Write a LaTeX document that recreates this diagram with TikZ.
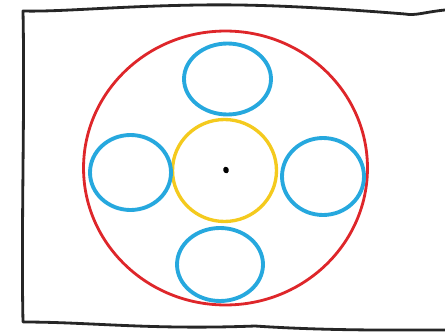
\documentclass[tikz,border=0pt]{standalone}
\usepackage{tikz}
\usetikzlibrary{shapes.geometric}
\definecolor{ringred}{RGB}{222,38,42}
\definecolor{ringblue}{RGB}{38,168,222}
\definecolor{ringyellow}{RGB}{244,202,30}
\tikzset{
  frame/.style     ={draw=black!85,line width=1.6pt,line join=round},
  outerring/.style ={draw=ringred,ellipse,line width=1.6pt,inner sep=0pt},
  bluering/.style  ={draw=ringblue,ellipse,line width=2.2pt,inner sep=0pt},
  hubring/.style   ={draw=ringyellow,ellipse,line width=1.9pt,inner sep=0pt},
  centre/.style    ={fill=black,ellipse,inner sep=0pt,minimum width=3.2pt,minimum height=3.8pt}
}
\begin{document}
\begin{tikzpicture}[x=0.02cm,y=-0.02cm]
    \useasboundingbox (0,0) rectangle (445,334);
    % frame, open at the right
    \draw[frame] (445,10) .. controls (425,12) and (415,16) .. (405,14)
      .. controls (330,8) and (260,4) .. (200,5)
      .. controls (120,6) and (60,12) .. (23,11)
      .. controls (25,110) and (21,230) .. (23,322)
      .. controls (90,322) and (150,330) .. (255,326)
      .. controls (330,331) and (400,330) .. (445,330);
    % rings
    \node[outerring,minimum width=5.68cm,minimum height=5.48cm] (outer) at (225.5,168) {};
    \node[hubring,minimum width=2.08cm,minimum height=2.04cm] (hub) at (224.5,170.5) {};
    \node[bluering,minimum width=1.74cm,minimum height=1.42cm] (top) at (227.5,79) {};
    \node[bluering,minimum width=1.62cm,minimum height=1.5cm] (left) at (130.5,172.5) {};
    \node[bluering,minimum width=1.64cm,minimum height=1.54cm] (right) at (323,176.5) {};
    \node[bluering,minimum width=1.72cm,minimum height=1.46cm] (bottom) at (220,264.5) {};
    \node[centre,rotate=20] (dot) at (226,170) {};
\end{tikzpicture}
\end{document}
